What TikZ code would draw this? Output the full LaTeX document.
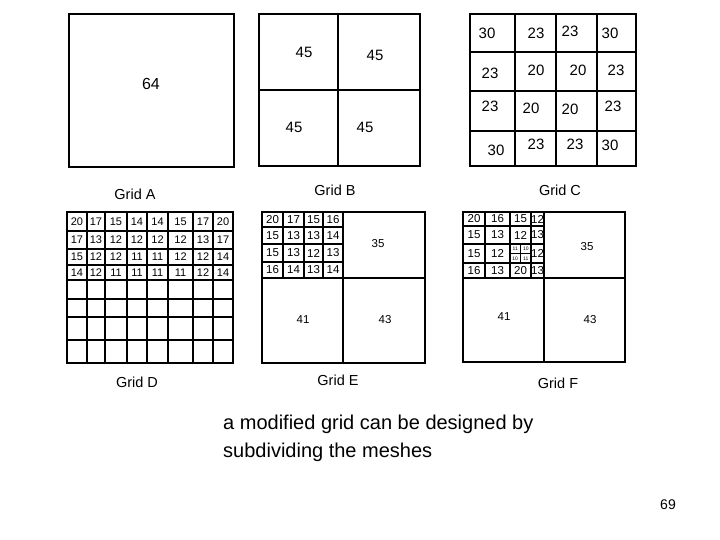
\documentclass[tikz,border=0pt]{standalone}
\usepackage{fontspec}
\setmainfont{Liberation Sans}
\begin{document}
\begin{tikzpicture}[x=1pt,y=-1pt,
  outer/.style={line width=2.8pt},
  inner/.style={line width=2.2pt},
  num/.style={font=\fontsize{15}{15}\selectfont,inner sep=0pt},
  small/.style={font=\fontsize{11.5}{11.5}\selectfont,inner sep=0pt},
  dsmall/.style={font=\fontsize{11}{11}\selectfont,inner sep=0pt},
  tiny/.style={font=\fontsize{5}{5}\selectfont,inner sep=0pt},
  gridlabel/.style={font=\fontsize{14.5}{14.5}\selectfont,inner sep=0pt}]
\useasboundingbox (0,0) rectangle (720,540);
\newcommand{\cellnum}[7]{% #1 xs array, #2 ys array, #3 row, #4 col, #5 value, #6 name, #7 style
  \pgfmathtruncatemacro{\cmo}{#4-1}%
  \pgfmathtruncatemacro{\rmo}{#3-1}%
  \pgfmathsetmacro{\xa}{#1[\cmo]}%
  \pgfmathsetmacro{\xb}{#1[#4]}%
  \pgfmathsetmacro{\ya}{#2[\rmo]}%
  \pgfmathsetmacro{\yb}{#2[#3]}%
  \node[#7] (#6) at ({(\xa+\xb)/2},{(\ya+\yb)/2}) {#5};}
% ---------- Grid A
\draw[outer] (69,14) rectangle (234,167);
\node[num,font=\fontsize{16}{16}\selectfont] (a1) at (151,84) {64};
\node[gridlabel] (la) at (135,194) {Grid A};
% ---------- Grid B
\draw[inner] (338,14) -- (338,166) (259,90) -- (420,90);
\draw[outer] (259,14) rectangle (420,166);
\node[num] (b1) at (304,52) {45};
\node[num] (b2) at (375,55) {45};
\node[num] (b3) at (294,127) {45};
\node[num] (b4) at (365,127) {45};
\node[gridlabel] (lb) at (335,190) {Grid B};
% ---------- Grid C
\draw[inner] (515,14) -- (515,166) (556,14) -- (556,166) (597,14) -- (597,166)
  (470,52) -- (636,52) (470,91) -- (636,91) (470,131) -- (636,131);
\draw[outer] (470,14) rectangle (636,166);
\node[num] (c11) at (487,33) {30};
\node[num] (c12) at (536,33) {23};
\node[num] (c13) at (570,31) {23};
\node[num] (c14) at (610,33) {30};
\node[num] (c21) at (490,73) {23};
\node[num] (c22) at (536,70) {20};
\node[num] (c23) at (578,70) {20};
\node[num] (c24) at (616,70) {23};
\node[num] (c31) at (490,106) {23};
\node[num] (c32) at (531,108) {20};
\node[num] (c33) at (570,109) {20};
\node[num] (c34) at (613,106) {23};
\node[num] (c41) at (496,150) {30};
\node[num] (c42) at (536,144) {23};
\node[num] (c43) at (575,144) {23};
\node[num] (c44) at (610,145) {30};
\node[gridlabel] (lc) at (560,190) {Grid C};
% ---------- Grid D
\def\dxs{{67,87,105,127,147,168,193,213,233}}
\def\dys{{212,231,249,265,280,299,317,340,363}}
\foreach \i in {1,...,7}{
  \pgfmathsetmacro{\xx}{\dxs[\i]}
  \pgfmathsetmacro{\yy}{\dys[\i]}
  \draw[inner] (\xx,212) -- (\xx,363);
  \draw[inner] (67,\yy) -- (233,\yy);
}
\draw[outer] (67,212) rectangle (233,363);
\foreach \row [count=\r] in {{20,17,15,14,14,15,17,20},{17,13,12,12,12,12,13,17},{15,12,12,11,11,12,12,14},{14,12,11,11,11,11,12,14}}{
  \foreach \v [count=\c] in \row {
    \cellnum{\dxs}{\dys}{\r}{\c}{\v}{d-\r-\c}{dsmall}
  }
}
\node[gridlabel] (ld) at (137,382) {Grid D};
% ---------- Grid E
\def\exs{{262,283,304,323,343}}
\def\eys{{212,227,244,262,278}}
\draw[inner] (283,212) -- (283,278) (304,212) -- (304,278) (323,212) -- (323,278)
  (262,227) -- (343,227) (262,244) -- (343,244) (262,262) -- (343,262);
\draw[outer] (343,212) -- (343,363) (262,278) -- (425,278);
\draw[outer] (262,212) rectangle (425,363);
\foreach \row [count=\r] in {{20,17,15,16},{15,13,13,14},{15,13,12,13},{16,14,13,14}}{
  \foreach \v [count=\c] in \row {
    \cellnum{\exs}{\eys}{\r}{\c}{\v}{e-\r-\c}{small}
  }
}
\node[small] (e35) at (378,244) {35};
\node[small] (e41) at (303,320) {41};
\node[small] (e43) at (385,320) {43};
\node[gridlabel] (le) at (338,380) {Grid E};
% ---------- Grid F
\def\fxs{{463,485,510,531,544}}
\def\fys{{212,226,244,263,278}}
\draw[inner] (485,212) -- (485,278) (510,212) -- (510,278) (531,212) -- (531,278)
  (463,226) -- (544,226) (463,244) -- (544,244) (463,263) -- (544,263);
\draw[line width=1pt] (520.5,244) -- (520.5,263) (510,253.5) -- (531,253.5);
\draw[outer] (544,212) -- (544,362) (463,278) -- (625,278);
\draw[outer] (463,212) rectangle (625,362);
\foreach \row [count=\r] in {{20,16,15,12},{15,13,12,13},{15,12,{},12},{16,13,20,13}}{
  \foreach \v [count=\c] in \row {
    \cellnum{\fxs}{\fys}{\r}{\c}{\v}{f-\r-\c}{small}
  }
}
\node[tiny] (fs1) at (515.2,249) {11};
\node[tiny] (fs2) at (525.8,249) {10};
\node[tiny] (fs3) at (515.2,258.5) {10};
\node[tiny] (fs4) at (525.8,258.5) {11};
\node[small] (f35) at (587,247) {35};
\node[small] (f41) at (504,317) {41};
\node[small] (f43) at (590,320) {43};
\node[gridlabel] (lf) at (558,383) {Grid F};
% ---------- caption
\node[anchor=base west,inner sep=0pt,font=\fontsize{20}{20}\selectfont] (t1) at (223,429) {a modified grid can be designed by};
\node[anchor=base west,inner sep=0pt,font=\fontsize{20}{20}\selectfont] (t2) at (223,457) {subdividing the meshes};
\node[inner sep=0pt,font=\fontsize{14}{14}\selectfont] (pg) at (668,505) {69};
\end{tikzpicture}
\end{document}
